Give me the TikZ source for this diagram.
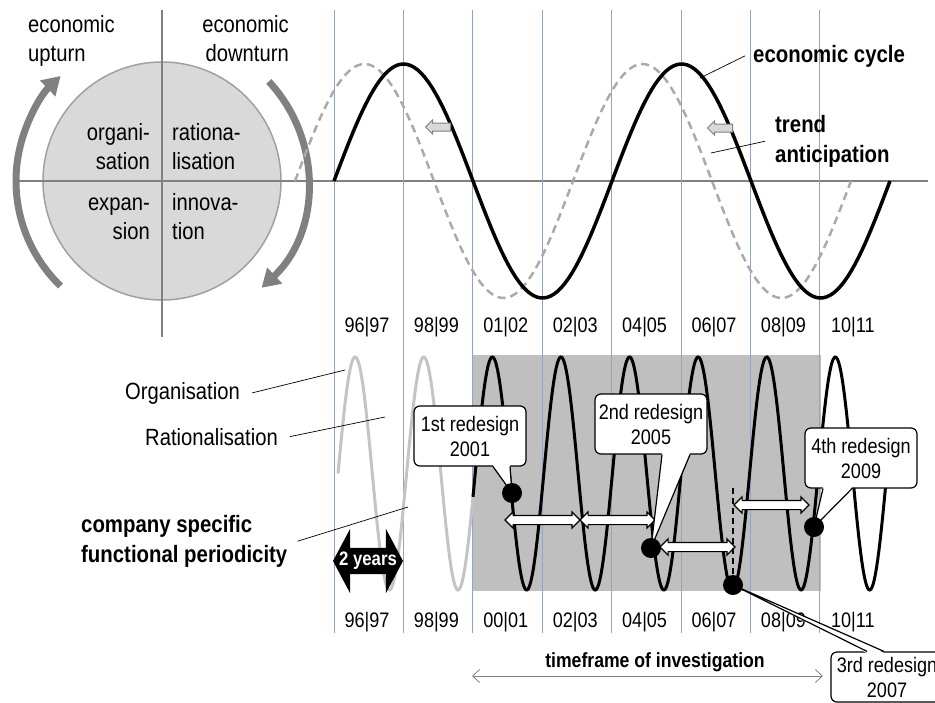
\documentclass[tikz,border=0pt]{standalone}
\usepackage{fontspec}
\setmainfont{Liberation Sans}[FakeStretch=0.86]
\usetikzlibrary{arrows.meta,shapes.arrows}

\definecolor{gridblue}{RGB}{150,162,190}
\definecolor{cyclegray}{RGB}{128,128,128}
\definecolor{lightfill}{RGB}{217,217,217}
\definecolor{dashgray}{RGB}{170,170,170}
\definecolor{boxgray}{RGB}{191,191,191}
\definecolor{fadegray}{RGB}{196,196,196}

\tikzset{
  txt/.style={inner sep=0pt, font=\fontsize{23.5}{29}\selectfont},
  txtb/.style={inner sep=0pt, font=\fontsize{23.7}{30}\selectfont\bfseries},
  yr/.style={inner sep=0pt, anchor=base, font=\fontsize{21}{24}\selectfont},
  callbox/.style={draw, fill=white, rounded corners=6pt, line width=1.2pt,
    minimum width=112pt, minimum height=60pt, align=center, inner sep=0pt,
    font=\fontsize{21}{25}\selectfont},
  calltail/.style={fill=white},
  redot/.style={circle, fill=black, minimum size=20pt, inner sep=0pt},
  spanarrow/.style={double arrow, draw=black, fill=white, line width=1.2pt,
    minimum height=75pt, inner xsep=0pt, inner ysep=4pt,
    double arrow head extend=3.5pt, double arrow tip angle=90},
  yearsarrow/.style={double arrow, fill=black, minimum height=70pt,
    inner xsep=0pt, inner ysep=13pt, double arrow head extend=19pt,
    double arrow tip angle=124},
  shiftarrow/.style={single arrow, draw=cyclegray, fill=lightfill, line width=1pt,
    minimum height=25pt, inner xsep=0pt, inner ysep=3.5pt,
    single arrow head extend=3pt, shape border rotate=180},
  leader/.style={line width=0.7pt},
  gridline/.style={gridblue, line width=0.8pt},
}

\begin{document}
\begin{tikzpicture}[x=1pt,y=-1pt]
  \useasboundingbox (0,0) rectangle (935,702);

  % cycle circle
  \coordinate (cc) at (162,181);
  \fill[lightfill] (cc) circle[radius=119pt];
  \draw[cyclegray!75, line width=1.5pt] (cc) circle[radius=119pt];
  \draw[cyclegray, line width=1.2pt] (162,10) -- (162,337);
  \draw[cyclegray, line width=1.2pt] (13,181) -- (928,181);
  \draw[cyclegray, line width=7pt, -{Triangle[length=18pt,width=21pt]}]
    ([shift={(226:146pt)}]cc) arc[start angle=226, end angle=134, radius=146pt];
  \draw[cyclegray, line width=7pt, -{Triangle[length=18pt,width=21pt]}]
    ([shift={(43:146pt)}]cc) arc[start angle=43, end angle=-47, radius=146pt];

  \node[txt, align=left, anchor=north west] (up) at (28,15) {economic\\upturn};
  \node[txt, align=right, anchor=north east] (down) at (289,15) {economic\\downturn};
  \node[txt, align=right, anchor=north east] (qorg) at (150,123) {organi-\\sation};
  \node[txt, align=left, anchor=north west] (qrat) at (172,123) {rationa-\\lisation};
  \node[txt, align=right, anchor=north east] (qexp) at (150,198) {expan-\\sion};
  \node[txt, align=left, anchor=north west] (qinn) at (172,193) {innova-\\tion};

  % investigation period
  \fill[boxgray] (473,355) rectangle (821,591);
  \foreach \k in {0,...,7}
    \draw[gridline] ({334+69.4*\k},10) -- ({334+69.4*\k},633);

  % economic cycle and anticipation
  \draw[dashgray, line width=2.5pt, dash pattern=on 8pt off 5pt]
    plot[domain=0:556, samples=160] ({295+\x},{181-117*sin(\x/278*360)});
  \draw[line width=3.5pt]
    plot[domain=0:556, samples=160] ({334+\x},{181-117*sin(\x/278*360)});
  \node[shiftarrow] (sh1) at (440,127) {};
  \node[shiftarrow] (sh2) at (722,128) {};

  \node[txtb, anchor=base west] (lcyc) at (753,62) {economic cycle};
  \node[txtb, align=left, anchor=north west] (ltrd) at (775,115) {trend\\anticipation};
  \coordinate (pcyc) at (700,78);
  \coordinate (ptrd) at (711,153);
  \draw[leader] ([xshift=-8pt]lcyc.west) -- (pcyc);
  \draw[leader] ([xshift=-10pt]ltrd.west) -- (ptrd);

  % years
  \foreach \lab [count=\k from 0] in {96|97,98|99,01|02,02|03,04|05,06|07,08|09,10|11}
    \node[yr] (ya\k) at ({367+69.4*\k},332) {\lab};
  \foreach \lab [count=\k from 0] in {96|97,98|99,00|01,02|03,04|05,06|07,08|09,10|11}
    \node[yr] (yb\k) at ({367+69.4*\k},627) {\lab};

  % functional periodicity
  \draw[fadegray, line width=3pt]
    plot[domain=338:474, samples=120] (\x,{473.5-116.5*sin((\x-338)/68.6*360)});
  \draw[line width=3pt]
    plot[domain=473:887, samples=360] (\x,{473.5-116.5*sin((\x-338)/68.6*360)});

  \node[txt, anchor=base east] (lorg) at (240,399) {Organisation};
  \node[txt, anchor=base east] (lrat) at (278,445) {Rationalisation};
  \node[txtb, align=left, anchor=north west] (lcsp) at (81,515) {company specific\\functional periodicity};
  \coordinate (porg) at (345,370);
  \coordinate (prat) at (385,417);
  \coordinate (pcsp) at (408,507);
  \draw[leader] ([xshift=12pt]lorg.east) -- (porg);
  \draw[leader] ([xshift=12pt]lrat.east) -- (prat);
  \draw[leader] ([xshift=10pt]lcsp.east) -- (pcsp);

  \node[yearsarrow] (yrs) at (368,561) {};
  \node[text=white, inner sep=0pt, font=\fontsize{19.5}{22}\selectfont\bfseries] (yrslab) at (yrs.center) {2 years};

  % redesign intervals
  \node[spanarrow] (a1) at (542.5,520) {};
  \node[spanarrow] (a2) at (617.5,520) {};
  \node[spanarrow] (a3) at (697.5,547) {};
  \node[spanarrow] (a4) at (771.5,505) {};

  \coordinate (d1) at (512,493);
  \coordinate (d2) at (651,548);
  \coordinate (d3) at (733,585);
  \coordinate (d4) at (814,527);
  \coordinate (vtop) at (733,488);
  \draw[line width=1.2pt, dash pattern=on 6pt off 4pt] (vtop) -- (d3);

  % callouts
  \node[callbox] (c1) at (470,436) {1st redesign\\2001};
  \node[callbox] (c2) at (651,424) {2nd redesign\\2005};
  \node[callbox] (c4) at (861,458) {4th redesign\\2009};
  \node[callbox, minimum height=50pt] (c3) at (887,677) {3rd redesign\\2007};

  \fill[calltail] ([xshift=23pt,yshift=1.5pt]c1.south) -- ([xshift=40pt,yshift=1.5pt]c1.south) -- (d1) -- cycle;
  \draw[line width=1.2pt] ([xshift=23pt]c1.south) -- (d1) -- ([xshift=40pt]c1.south);
  \fill[calltail] ([xshift=11pt,yshift=1.5pt]c2.south) -- ([xshift=39pt,yshift=1.5pt]c2.south) -- (d2) -- cycle;
  \draw[line width=1.2pt] ([xshift=11pt]c2.south) -- (d2) -- ([xshift=39pt]c2.south);
  \fill[calltail] ([xshift=-38pt,yshift=1.5pt]c4.south) -- ([xshift=-9pt,yshift=1.5pt]c4.south) -- (d4) -- cycle;
  \draw[line width=1.2pt] ([xshift=-38pt]c4.south) -- (d4) -- ([xshift=-9pt]c4.south);
  \fill[calltail] ([xshift=-20pt,yshift=-1.5pt]c3.north) -- ([xshift=-3pt,yshift=-1.5pt]c3.north) -- (d3) -- cycle;
  \draw[line width=1.2pt] ([xshift=-20pt]c3.north) -- (d3) -- ([xshift=-3pt]c3.north);

  \node[redot] (r1) at (d1) {};
  \node[redot] (r2) at (d2) {};
  \node[redot] (r3) at (d3) {};
  \node[redot] (r4) at (d4) {};

  % timeframe
  \node[inner sep=0pt, anchor=base, font=\fontsize{20.5}{24}\selectfont\bfseries] (ltime) at (655,667) {timeframe of investigation};
  \coordinate (tf1) at (472,676);
  \coordinate (tf2) at (823,676);
  \draw[cyclegray, line width=0.8pt, {Straight Barb[length=7pt,width=13pt]}-{Straight Barb[length=7pt,width=13pt]}] (tf1) -- (tf2);
\end{tikzpicture}
\end{document}
